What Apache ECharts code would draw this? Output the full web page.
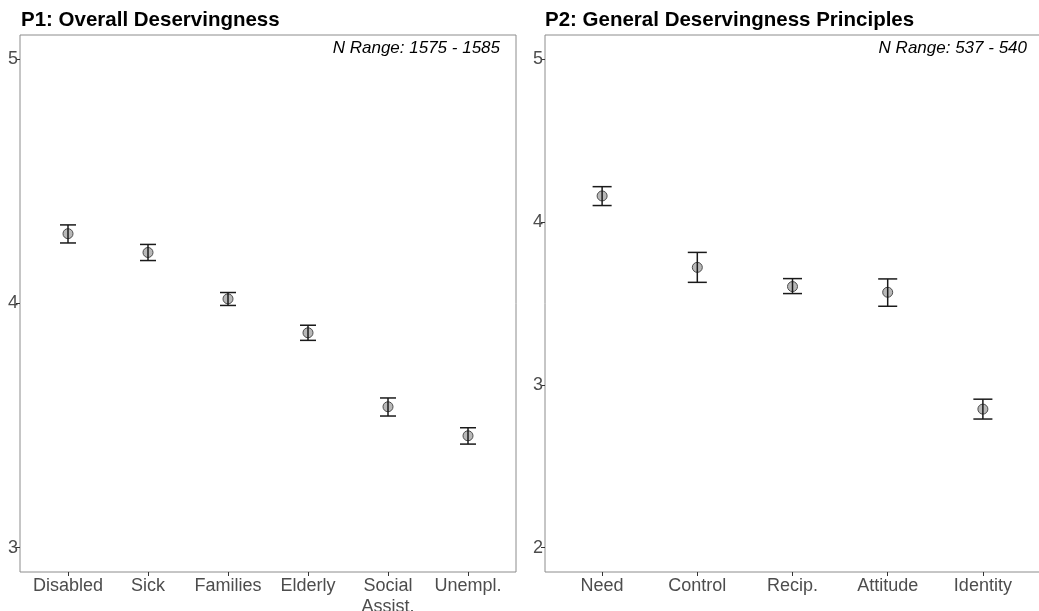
<!DOCTYPE html>
<html>
<head>
<meta charset="utf-8">
<script src="https://cdn.jsdelivr.net/npm/echarts@6/dist/echarts.min.js"></script>
<style>html,body{margin:0;padding:0;background:#fff}#chart{width:1039px;height:611px}</style>
</head>
<body>
<div id="chart"></div>
<script>
// Panel 1 data
var categories1 = ['Disabled', 'Sick', 'Families', 'Elderly', 'Social\nAssist.', 'Unempl.'];
var mean1  = [4.286, 4.209, 4.019, 3.880, 3.577, 3.458];
var lower1 = [4.248, 4.176, 3.992, 3.849, 3.539, 3.424];
var upper1 = [4.322, 4.242, 4.045, 3.911, 3.613, 3.491];
var yTicks1 = [3, 4, 5];

// Panel 2 data
var categories2 = ['Need', 'Control', 'Recip.', 'Attitude', 'Identity'];
var mean2  = [4.161, 3.722, 3.604, 3.569, 2.851];
var lower2 = [4.102, 3.630, 3.561, 3.483, 2.790];
var upper2 = [4.218, 3.814, 3.653, 3.651, 2.912];
var yTicks2 = [2, 3, 4, 5];

var FONT = 'Liberation Sans, Arial, Helvetica, sans-serif';

function idxList(arr) { return arr.map(function (_, i) { return i; }); }

function errData(lo, hi) { return lo.map(function (l, i) { return [i, l, hi[i]]; }); }
function ptData(m) { return m.map(function (v, i) { return [i, v]; }); }

function renderErr(params, api) {
  var x = api.value(0), lo = api.value(1), hi = api.value(2);
  var pTop = api.coord([x, hi]);
  var pBot = api.coord([x, lo]);
  var half = api.size([0.1, 0])[0];
  var style = { stroke: '#1a1a1a', lineWidth: 1.5 };
  return {
    type: 'group',
    children: [
      { type: 'line', shape: { x1: pTop[0], y1: pTop[1], x2: pBot[0], y2: pBot[1] }, style: style },
      { type: 'line', shape: { x1: pTop[0] - half, y1: pTop[1], x2: pTop[0] + half, y2: pTop[1] }, style: style },
      { type: 'line', shape: { x1: pBot[0] - half, y1: pBot[1], x2: pBot[0] + half, y2: pBot[1] }, style: style }
    ]
  };
}

function xAxisFor(cats, gridIndex) {
  return {
    type: 'value', gridIndex: gridIndex, min: -0.6, max: cats.length - 0.4,
    splitLine: { show: false }, axisLine: { show: false, onZero: false },
    axisTick: { show: true, customValues: idxList(cats), length: 4, lineStyle: { color: '#333', width: 1 } },
    axisLabel: {
      customValues: idxList(cats), margin: 4,
      formatter: function (v) { return cats[Math.round(v)]; },
      fontFamily: FONT, fontSize: 18, color: '#4d4d4d', lineHeight: 21
    }
  };
}

function yAxisFor(ticks, min, max, gridIndex) {
  return {
    type: 'value', gridIndex: gridIndex, min: min, max: max,
    splitLine: { show: false }, axisLine: { show: false, onZero: false },
    axisTick: { show: true, customValues: ticks, length: 4, lineStyle: { color: '#333', width: 1 } },
    axisLabel: { customValues: ticks, margin: 2, fontFamily: FONT, fontSize: 18, color: '#4d4d4d' }
  };
}

var option = {
  backgroundColor: '#fff',
  animation: false,
  title: [
    { text: 'P1: Overall Deservingness', left: 21, top: 10, padding: 0, textStyle: { fontFamily: FONT, fontSize: 20.5, fontWeight: 'bold', color: '#000' } },
    { text: 'P2: General Deservingness Principles', left: 545, top: 10, padding: 0, textStyle: { fontFamily: FONT, fontSize: 20.5, fontWeight: 'bold', color: '#000' } },
    { text: 'N Range: 1575 - 1585', right: 539, top: 40, padding: 0, textStyle: { fontFamily: FONT, fontSize: 17, fontStyle: 'italic', fontWeight: 'normal', color: '#000' } },
    { text: 'N Range: 537 - 540', right: 12, top: 40, padding: 0, textStyle: { fontFamily: FONT, fontSize: 17, fontStyle: 'italic', fontWeight: 'normal', color: '#000' } }
  ],
  grid: [
    { left: 20, top: 35, width: 496, height: 537, outerBoundsMode: 'none', containLabel: false, show: true, borderColor: '#8c8c8c', borderWidth: 1, backgroundColor: 'transparent' },
    { left: 545, top: 35, width: 495, height: 537, outerBoundsMode: 'none', containLabel: false, show: true, borderColor: '#8c8c8c', borderWidth: 1, backgroundColor: 'transparent' }
  ],
  xAxis: [xAxisFor(categories1, 0), xAxisFor(categories2, 1)],
  yAxis: [yAxisFor(yTicks1, 2.9, 5.1, 0), yAxisFor(yTicks2, 1.85, 5.15, 1)],
  series: [
    { type: 'scatter', xAxisIndex: 0, yAxisIndex: 0, data: ptData(mean1), symbol: 'circle', symbolSize: 10, z: 2,
      itemStyle: { color: '#b8b8b8', borderColor: '#4d4d4d', borderWidth: 1, opacity: 1 } },
    { type: 'custom', xAxisIndex: 0, yAxisIndex: 0, data: errData(lower1, upper1), renderItem: renderErr, z: 3 },
    { type: 'scatter', xAxisIndex: 1, yAxisIndex: 1, data: ptData(mean2), symbol: 'circle', symbolSize: 10, z: 2,
      itemStyle: { color: '#b8b8b8', borderColor: '#4d4d4d', borderWidth: 1, opacity: 1 } },
    { type: 'custom', xAxisIndex: 1, yAxisIndex: 1, data: errData(lower2, upper2), renderItem: renderErr, z: 3 }
  ]
};

var chart = echarts.init(document.getElementById('chart'), null, { renderer: 'canvas' });
chart.setOption(option);
</script>
</body>
</html>
